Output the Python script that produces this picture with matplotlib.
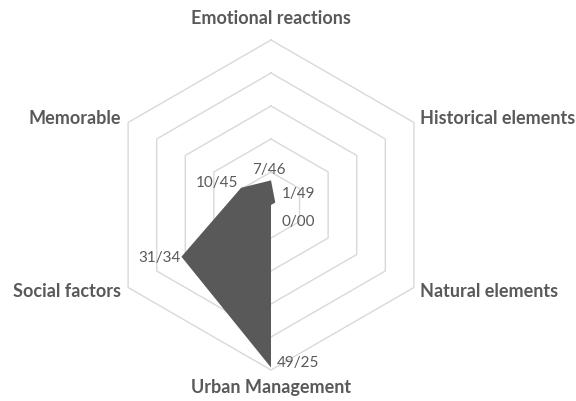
import numpy as np
import matplotlib
matplotlib.use('Agg')
import matplotlib.pyplot as plt

# axis order clockwise from the top
categories = ['Emotional reactions', 'Historical elements', 'Natural elements',
              'Urban Management', 'Social factors', 'Memorable']
values = [7.46, 1.49, 0.00, 49.25, 31.34, 10.45]
value_labels = ['7/46', '1/49', '0/00', '49/25', '31/34', '10/45']
rings = [10, 20, 30, 40, 50]

grey_text = '#595959'
plt.rcParams['font.family'] = ['Lato', 'DejaVu Sans']

fig = plt.figure(figsize=(5.76, 4.01), dpi=100)
ax = fig.add_axes([0, 0, 1, 1])

# pixel layout: centre at (271, 205), 3.3 px per unit
cx, cy, ppu = 271, 205, 3.3
ax.set_xlim(-cx / ppu, (576 - cx) / ppu)
ax.set_ylim(-(401 - cy) / ppu, cy / ppu)
ax.axis('off')

angles = np.deg2rad(np.arange(len(categories)) * 60)
sx, sy = np.sin(angles), np.cos(angles)

# hexagon grid
for r in rings:
    ax.plot(np.append(r * sx, r * sx[0]), np.append(r * sy, r * sy[0]),
            color='#d9d9d9', lw=1.0, zorder=1)

# data polygon
v = np.array(values)
ax.fill(v * sx, v * sy, color='#595959', zorder=2, lw=0)

# category labels, placed off the outer ring
label_r = rings[-1]
cat_off = [(0, 22), (6, 4), (6, -4), (0, -18), (-7, -4), (-7, 4)]
cat_align = ['center', 'left', 'left', 'center', 'right', 'right']
for i, name in enumerate(categories):
    ax.annotate(name, (label_r * sx[i], label_r * sy[i]), textcoords='offset pixels',
                xytext=cat_off[i], ha=cat_align[i], va='center',
                fontsize=13, fontweight='bold', color=grey_text)

# value labels
val_off = [(-2, 10), (7, 9), (11, -17), (6, 5), (-1, -1), (-3, 5)]
val_align = ['center', 'left', 'left', 'left', 'right', 'right']
for i, txt in enumerate(value_labels):
    ax.annotate(txt, (values[i] * sx[i], values[i] * sy[i]), textcoords='offset pixels',
                xytext=val_off[i], ha=val_align[i], va='center',
                fontsize=11, color=grey_text)

fig.savefig('out.png', dpi=100)
